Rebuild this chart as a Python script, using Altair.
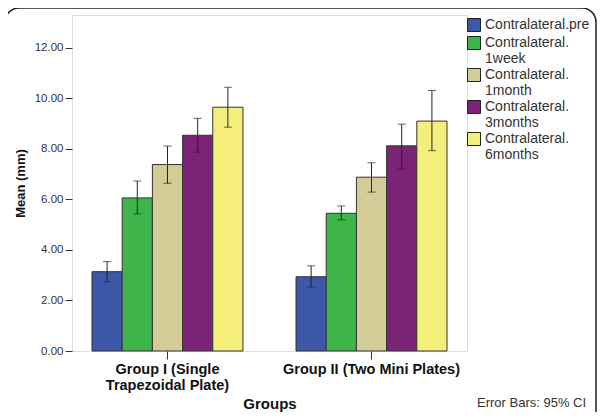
import altair as alt
import pandas as pd

groups = ["Group I  (Single Trapezoidal Plate)", "Group II (Two Mini Plates)"]
series = ["Contralateral.pre", "Contralateral.1week", "Contralateral.1month",
          "Contralateral.3months", "Contralateral.6months"]
means_g1 = [3.14, 6.06, 7.38, 8.54, 9.65]
lo_g1 = [2.74, 5.43, 6.64, 7.87, 8.86]
hi_g1 = [3.54, 6.73, 8.11, 9.21, 10.44]
means_g2 = [2.94, 5.45, 6.88, 8.12, 9.10]
lo_g2 = [2.53, 5.19, 6.29, 7.20, 7.93]
hi_g2 = [3.37, 5.74, 7.45, 8.98, 10.31]
colors = ["#3e58a8", "#3db54a", "#d3cc96", "#7b2377", "#f4ef7a"]
y_ticks = [0, 2, 4, 6, 8, 10, 12]

rows = []
for g, m, lo, hi in [(groups[0], means_g1, lo_g1, hi_g1), (groups[1], means_g2, lo_g2, hi_g2)]:
    for s, mv, l, h in zip(series, m, lo, hi):
        rows.append({"group": g, "series": s, "mean": mv, "lo": l, "hi": h})
df = pd.DataFrame(rows)

FONT = "Liberation Sans"

x_enc = alt.X("group:N", sort=groups, title="Groups",
              scale=alt.Scale(domain=groups, paddingInner=0.26, paddingOuter=0.098),
              axis=alt.Axis(labelAngle=0, domain=False, tickSize=8, tickColor="#333",
                            labelFont=FONT, labelFontSize=14.5, labelFontWeight="bold",
                            labelColor="#111", labelPadding=3, labelLineHeight=16.5,
                            labelLimit=400,
                            labelExpr="datum.label == 'Group I  (Single Trapezoidal Plate)' ? ['Group I  (Single', 'Trapezoidal Plate)'] : datum.label",
                            titleFont=FONT, titleFontSize=15, titleFontWeight="bold",
                            titleColor="#111", titleY=52, titleBaseline="middle"))
xo_enc = alt.XOffset("series:N", sort=series, scale=alt.Scale(domain=series, paddingInner=0, paddingOuter=0))
y_scale = alt.Scale(domain=[0, 13.3], nice=False)

base = alt.Chart(df)

bars = base.mark_bar(stroke="#333", strokeWidth=1).encode(
    x=x_enc,
    xOffset=xo_enc,
    y=alt.Y("mean:Q", scale=y_scale, title="Mean (mm)",
            axis=alt.Axis(values=y_ticks, format=".2f", grid=False, domain=False,
                          tickSize=7, tickColor="#333", labelFont=FONT, labelFontSize=11.5,
                          labelColor="#333", labelPadding=2,
                          titleFont=FONT, titleFontSize=13, titleFontWeight="bold",
                          titleColor="#111", titleX=-52, titleBaseline="middle")),
    color=alt.Color("series:N", sort=series,
                    scale=alt.Scale(domain=series, range=colors),
                    legend=alt.Legend(title=None, orient="none", legendX=395, legendY=3,
                                      symbolType="square", symbolSize=169,
                                      symbolStrokeColor="#222", symbolStrokeWidth=1,
                                      labelFont=FONT, labelFontSize=14, labelColor="#333",
                                      labelOffset=4, labelLimit=200, padding=0, rowPadding=0,
                                      labelExpr="datum.label == 'Contralateral.pre' ? datum.label : ['Contralateral.', replace(datum.label, 'Contralateral.', '')]")),
)

rules = base.mark_rule(color="#222", strokeWidth=1).encode(
    x=alt.X("group:N", sort=groups), xOffset=xo_enc,
    y=alt.Y("lo:Q", scale=y_scale), y2="hi:Q")
caps_lo = base.mark_tick(color="#222", size=8, thickness=1).encode(
    x=alt.X("group:N", sort=groups), xOffset=xo_enc, y=alt.Y("lo:Q", scale=y_scale))
caps_hi = base.mark_tick(color="#222", size=8, thickness=1).encode(
    x=alt.X("group:N", sort=groups), xOffset=xo_enc, y=alt.Y("hi:Q", scale=y_scale))

one = alt.Chart(pd.DataFrame({"t": ["Error Bars: 95% CI"]}))
note = one.mark_text(font=FONT, fontSize=13, color="#333", align="left", baseline="middle").encode(
    x=alt.value(405), y=alt.value(388), text="t:N")
frame = one.mark_rect(fillOpacity=0, stroke="#222", strokeWidth=1.5, cornerRadius=14).encode(
    x=alt.value(-67), x2=alt.value(524), y=alt.value(-7), y2=alt.value(420))

chart = alt.layer(frame, bars, rules, caps_lo, caps_hi, note).properties(
    width=395, height=336,
    autosize=alt.AutoSizeParams(type="none"),
    padding={"left": 64, "top": 7, "right": 130, "bottom": 61},
    background="white",
).configure_view(fill="#f0f0f0", stroke="#444", strokeWidth=1.2
).configure(style={"guide-label": {"lineHeight": 16}})

chart.save("out.html", embed_options={"renderer": "svg", "actions": False})
